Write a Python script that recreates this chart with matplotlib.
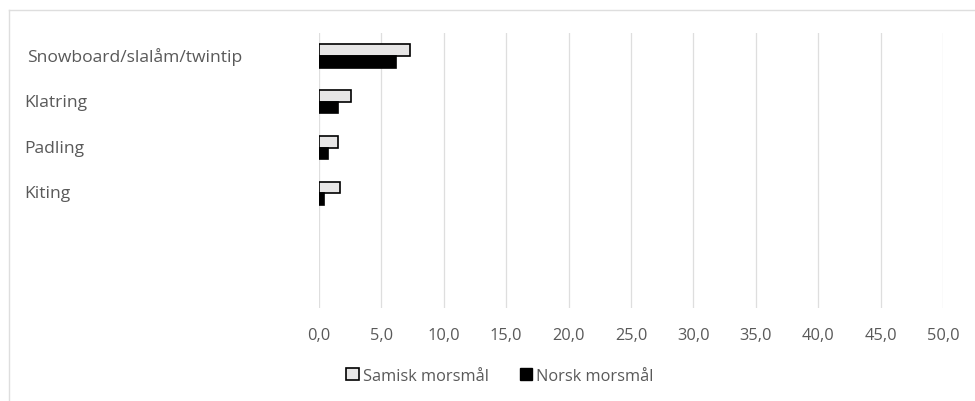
#!/usr/bin/env python3
from __future__ import annotations

import matplotlib

matplotlib.use("Agg")
import matplotlib.pyplot as plt
from matplotlib.patches import Patch
from matplotlib.transforms import blended_transform_factory
from matplotlib.ticker import FuncFormatter, MultipleLocator

# Data (percent)
categories = ["Snowboard/slalåm/twintip", "Klatring", "Padling", "Kiting"]
samisk = [7.3, 2.6, 1.5, 1.7]
norsk = [6.2, 1.5, 0.7, 0.4]
series_names = ["Samisk morsmål", "Norsk morsmål"]
n_slots = 6  # Excel keeps two empty category slots below Kiting

TEXT = "#595959"
GRID = "#dedede"
LIGHT = "#e7e6e6"

plt.rcParams["font.family"] = ["Open Sans", "DejaVu Sans"]

fig = plt.figure(figsize=(9.75, 4.02), dpi=100)
W, H = 975, 402
ax = fig.add_axes([319 / W, 1 - 309 / H, (943 - 319) / W, (309 - 34) / H])

bar_h = 0.254
ys = [i + 0.5 for i in range(len(categories))]
ax.barh([y - bar_h / 2 for y in ys], samisk, height=bar_h, color=LIGHT,
        edgecolor="black", linewidth=1.2, zorder=3)
ax.barh([y + bar_h / 2 for y in ys], norsk, height=bar_h, color="black",
        edgecolor="black", linewidth=1.2, zorder=3)

ax.set_xlim(0, 50)
ax.set_ylim(n_slots, 0)
ax.xaxis.set_major_locator(MultipleLocator(5))
ax.xaxis.set_major_formatter(FuncFormatter(lambda v, _: f"{v:.1f}".replace(".", ",")))
ax.tick_params(axis="x", length=0, pad=14, labelsize=11.8, labelcolor=TEXT)
ax.set_yticks([])
ax.grid(axis="x", color=GRID, linewidth=0.9, zorder=0)
for side in ax.spines.values():
    side.set_visible(False)

# category labels sit left-aligned at the chart's left edge
label_tr = blended_transform_factory(fig.transFigure, ax.transData)
for y, name in zip(ys, categories):
    x0 = 27 if name.startswith("Snowboard") else 24
    ax.text(x0 / W, y, name, transform=label_tr, ha="left", va="center",
            fontsize=12.6, color=TEXT)

handles = [
    Patch(facecolor=LIGHT, edgecolor="black", linewidth=1.2, label=series_names[0]),
    Patch(facecolor="black", edgecolor="black", label=series_names[1]),
]
fig.legend(handles=handles, loc="center", bbox_to_anchor=(500 / W, 1 - 377 / H), ncol=2,
           frameon=False, fontsize=11.8, labelcolor=TEXT, handlelength=0.75, handleheight=0.75,
           handletextpad=0.25, columnspacing=1.9)

# light chart-area frame: only top and left edges show in the crop
fig.add_artist(plt.Line2D([9 / W, 9 / W], [0, 1 - 11 / H], transform=fig.transFigure,
                          color=GRID, linewidth=1))
fig.add_artist(plt.Line2D([9 / W, 1], [1 - 11 / H, 1 - 11 / H], transform=fig.transFigure,
                          color=GRID, linewidth=1))

fig.savefig("out.png", dpi=100)
